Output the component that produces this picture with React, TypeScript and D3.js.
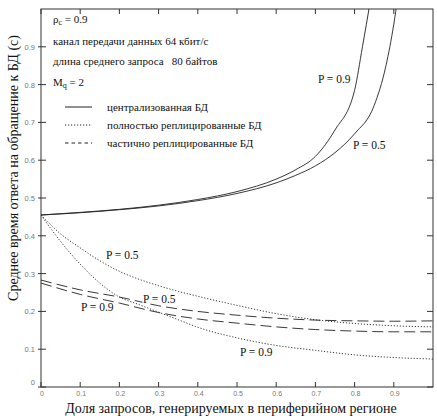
import * as d3 from 'd3';

// share of requests generated in the peripheral region
const xCentral09 = [0, 0.1, 0.2, 0.3, 0.4, 0.5, 0.6, 0.65, 0.7, 0.75, 0.8, 0.82, 0.84];
const yCentral09 = [0.455, 0.462, 0.47, 0.481, 0.496, 0.517, 0.55, 0.575, 0.61, 0.68, 0.785, 0.9, 1.02];

const xCentral05 = [0, 0.1, 0.2, 0.3, 0.4, 0.5, 0.6, 0.65, 0.7, 0.75, 0.8, 0.85, 0.88, 0.9, 0.91];
const yCentral05 = [0.455, 0.461, 0.469, 0.479, 0.493, 0.512, 0.54, 0.56, 0.585, 0.62, 0.67, 0.745, 0.85, 0.96, 1.03];

const xRepl = [0, 0.05, 0.1, 0.15, 0.2, 0.25, 0.3, 0.35, 0.4, 0.5, 0.6, 0.7, 0.8, 0.9, 1.0];
const yFull05 = [0.455, 0.405, 0.368, 0.334, 0.306, 0.285, 0.268, 0.253, 0.24, 0.216, 0.194, 0.178, 0.168, 0.162, 0.159];
const yFull09 = [0.455, 0.385, 0.325, 0.275, 0.238, 0.218, 0.198, 0.178, 0.158, 0.13, 0.11, 0.097, 0.085, 0.078, 0.074];

const xPart = [0, 0.1, 0.2, 0.3, 0.4, 0.5, 0.6, 0.7, 0.8, 0.9, 1.0];
const yPart05 = [0.283, 0.257, 0.238, 0.215, 0.2, 0.19, 0.182, 0.177, 0.175, 0.174, 0.175];
const yPart09 = [0.275, 0.245, 0.222, 0.197, 0.18, 0.169, 0.159, 0.152, 0.148, 0.146, 0.146];

const xTicks = [0, 0.1, 0.2, 0.3, 0.4, 0.5, 0.6, 0.7, 0.8, 0.9];
const yTicks = [0, 0.1, 0.2, 0.3, 0.4, 0.5, 0.6, 0.7, 0.8, 0.9];

const legendItems = ['централизованная БД', 'полностью реплицированные БД', 'частично реплицированные БД'];

const W = 437;
const H = 419;
const left = 41, right = 433, top = 9, bottom = 387;
const serif = "'Liberation Serif', 'Times New Roman', serif";

export default function App() {
  const x = d3.scaleLinear().domain([0, 1]).range([left, right]);
  const y = d3.scaleLinear().domain([0, 1]).range([bottom, top]);
  const line = d3.line<[number, number]>().x(d => x(d[0])).y(d => y(d[1])).curve(d3.curveMonotoneX);
  const path = (xs: number[], ys: number[]) => line(xs.map((v, i) => [v, ys[i]]) as [number, number][]) || '';

  const curves = [
    { d: path(xCentral09, yCentral09), dash: undefined },
    { d: path(xCentral05, yCentral05), dash: undefined },
    { d: path(xRepl, yFull05), dash: '1.2,1.8' },
    { d: path(xRepl, yFull09), dash: '1.2,1.8' },
    { d: path(xPart, yPart05), dash: '11,5' },
    { d: path(xPart, yPart09), dash: '11,5' },
  ];
  const legendDash = [undefined, '1.2,1.8', '3.5,3'];

  const labels = [
    { t: 'P = 0.9', x: 318, y: 83 },
    { t: 'P = 0.5', x: 353, y: 149 },
    { t: 'P = 0.5', x: 106, y: 259 },
    { t: 'P = 0.5', x: 143, y: 303 },
    { t: 'P = 0.9', x: 81, y: 311 },
    { t: 'P = 0.9', x: 240, y: 356 },
  ];

  return (
    <svg width={W} height={H} style={{ position: 'absolute', left: 0, top: 0, background: '#fff' }}>
      <defs>
        <clipPath id="plot">
          <rect x={left} y={top} width={right - left} height={bottom - top} />
        </clipPath>
      </defs>
      <rect x={left} y={top} width={right - left} height={bottom - top} fill="none" stroke="#333" strokeWidth={1} />

      {xTicks.map(t => (
        <g key={'x' + t}>
          <line x1={x(t)} x2={x(t)} y1={bottom} y2={bottom - 5} stroke="#333" />
          <line x1={x(t)} x2={x(t)} y1={top} y2={top + 5} stroke="#333" />
          <text x={x(t) + 1} y={bottom + 9} fontSize={7} fill="#777" textAnchor="middle" style={{ fontFamily: 'Arial, sans-serif' }}>{t === 0 ? '0' : t.toFixed(1)}</text>
        </g>
      ))}
      {yTicks.map(t => (
        <g key={'y' + t}>
          <line x1={left - 3} x2={left + 5} y1={y(t)} y2={y(t)} stroke="#333" />
          <line x1={right} x2={right - 6} y1={y(t)} y2={y(t)} stroke="#333" />
          <text x={35} y={y(t) + (t === 0 ? -2 : 3)} fontSize={7.5} fill="#777" textAnchor="end" style={{ fontFamily: 'Arial, sans-serif' }}>{t === 0 ? '0' : t.toFixed(1)}</text>
        </g>
      ))}

      <g clipPath="url(#plot)">
        {curves.map((c, i) => (
          <path key={i} d={c.d} fill="none" stroke="#222" strokeWidth={0.9} strokeDasharray={c.dash} />
        ))}
      </g>

      <g style={{ fontFamily: serif }} fontSize={11} fill="#111">
        <text x={53} y={23}>ρ<tspan fontSize={8} dy={2}>c</tspan><tspan dy={-2}> = 0.9</tspan></text>
        <text x={53} y={45}>канал передачи данных 64 кбит/с</text>
        <text x={53} y={65} style={{ whiteSpace: 'pre' }}>длина среднего запроса   80 байтов</text>
        <text x={53} y={86}>M<tspan fontSize={8} dy={2}>q</tspan><tspan dy={-2}> = 2</tspan></text>
        {legendItems.map((s, i) => (
          <g key={s}>
            <line x1={65} x2={92} y1={107 + i * 18} y2={107 + i * 18} stroke="#222" strokeDasharray={legendDash[i]} />
            <text x={107} y={111 + i * 18}>{s}</text>
          </g>
        ))}
        {labels.map((l, i) => (
          <text key={i} x={l.x} y={l.y} fontSize={11.5} style={{ paintOrder: 'stroke' }} stroke="#fff" strokeWidth={2}>{l.t}</text>
        ))}
        <text x={231} y={413} fontSize={14} textAnchor="middle">
          Доля запросов, генерируемых в периферийном регионе
        </text>
        <text transform={`translate(18,168) rotate(-90)`} fontSize={14} textAnchor="middle">
          Среднее время ответа на обращение к БД (с)
        </text>
      </g>
    </svg>
  );
}
